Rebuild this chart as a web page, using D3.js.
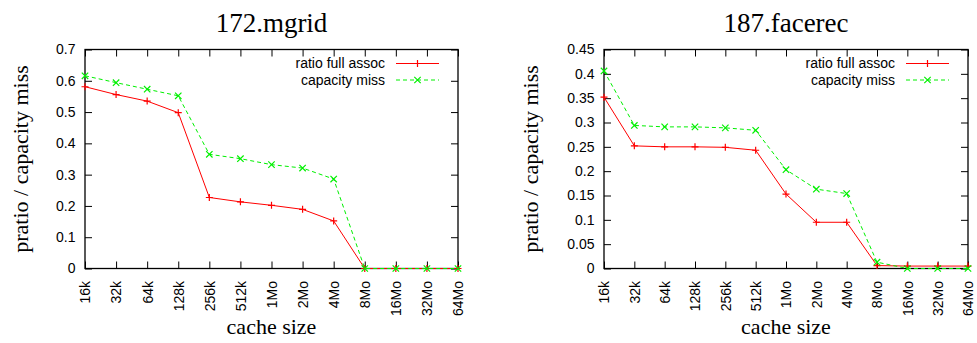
<!DOCTYPE html>
<html>
<head>
<meta charset="utf-8">
<script src="https://cdn.jsdelivr.net/npm/d3@7"></script>
<style>
  html, body { margin: 0; padding: 0; background: #fff; }
  svg { display: block; }
</style>
</head>
<body>
<svg id="chart" width="977" height="343"></svg>
<script>
// ---- data ----
const categories = ["16k","32k","64k","128k","256k","512k","1Mo","2Mo","4Mo","8Mo","16Mo","32Mo","64Mo"];
const seriesNames = ["ratio full assoc", "capacity miss"];

const mgridTitle = "172.mgrid";
const mgridRatio    = [0.581, 0.556, 0.535, 0.498, 0.227, 0.213, 0.202, 0.189, 0.152, 0, 0, 0, 0];
const mgridCapacity = [0.616, 0.594, 0.573, 0.552, 0.365, 0.351, 0.332, 0.321, 0.286, 0, 0, 0, 0];
const mgridYTicks   = [0, 0.1, 0.2, 0.3, 0.4, 0.5, 0.6, 0.7];
const mgridYTickLabels = ["0", "0.1", "0.2", "0.3", "0.4", "0.5", "0.6", "0.7"];

const facerecTitle = "187.facerec";
const facerecRatio    = [0.352, 0.252, 0.250, 0.250, 0.249, 0.243, 0.153, 0.095, 0.095, 0.006, 0.005, 0.005, 0.005];
const facerecCapacity = [0.406, 0.294, 0.291, 0.291, 0.289, 0.284, 0.203, 0.163, 0.154, 0.013, 0, 0, 0];
const facerecYTicks   = [0, 0.05, 0.1, 0.15, 0.2, 0.25, 0.3, 0.35, 0.4, 0.45];
const facerecYTickLabels = ["0", "0.05", "0.1", "0.15", "0.2", "0.25", "0.3", "0.35", "0.4", "0.45"];

const xLabel = "cache size";
const yLabel = "pratio / capacity miss";

// ---- drawing ----
const svg = d3.select("#chart");
const serif = "'Liberation Serif', 'Times New Roman', serif";
const sans = "'Liberation Sans', Arial, Helvetica, sans-serif";
const colors = ["#ff0000", "#00f000"];
const dashes = [null, "4,3"];

function plusPath(s) { return `M${-s},0H${s}M0,${-s}V${s}`; }
function crossPath(s) { return `M${-s},${-s}L${s},${s}M${-s},${s}L${s},${-s}`; }
const markers = [plusPath(3.5), crossPath(3.2)];

function panel(cfg) {
  const { left, right, top, bottom, title, series, yTicks, yTickLabels, yLabelX } = cfg;
  const g = svg.append("g");

  const x = d3.scalePoint().domain(categories).range([left, right]).padding(0);
  const y = d3.scaleLinear().domain([yTicks[0], yTicks[yTicks.length - 1]]).range([bottom, top]);

  // title
  g.append("text")
    .attr("x", (left + right) / 2).attr("y", 31.5)
    .attr("text-anchor", "middle")
    .style("font-family", serif).style("font-size", "27px")
    .text(title);

  // axes
  const fmt = (d) => yTickLabels[yTicks.indexOf(d)];
  const ax = g.append("g")
    .attr("transform", `translate(${left},0)`)
    .call(d3.axisLeft(y).tickValues(yTicks).tickFormat(fmt).tickSize(-7).tickPadding(9.5));
  const axR = g.append("g")
    .attr("transform", `translate(${right},0)`)
    .call(d3.axisRight(y).tickValues(yTicks).tickFormat("").tickSize(-7));
  const axB = g.append("g")
    .attr("transform", `translate(0,${bottom})`)
    .call(d3.axisBottom(x).tickSize(-7).tickPadding(0));
  const axT = g.append("g")
    .attr("transform", `translate(0,${top})`)
    .call(d3.axisTop(x).tickFormat("").tickSize(-7));

  [ax, axR, axB, axT].forEach(a => {
    a.select(".domain").remove();
    a.selectAll("line").attr("stroke", "#000").attr("stroke-width", 1);
    a.selectAll("text").style("font-family", sans).style("font-size", "14px").attr("fill", "#000");
  });
  axB.selectAll(".tick text")
    .attr("transform", "rotate(-90)")
    .attr("text-anchor", "end")
    .attr("x", -12.5)
    .attr("y", 0)
    .attr("dy", "0.35em");

  // frame
  g.append("rect")
    .attr("x", left).attr("y", top)
    .attr("width", right - left).attr("height", bottom - top)
    .attr("fill", "none").attr("stroke", "#000").attr("stroke-width", 1.3);

  // axis labels
  g.append("text")
    .attr("x", (left + right) / 2).attr("y", 334)
    .attr("text-anchor", "middle")
    .style("font-family", serif).style("font-size", "22px")
    .text(xLabel);
  g.append("text")
    .attr("transform", `translate(${yLabelX},${(top + bottom) / 2}) rotate(-90)`)
    .attr("text-anchor", "middle")
    .style("font-family", serif).style("font-size", "22px")
    .text(yLabel);

  // series
  const line = d3.line().x((d, i) => x(categories[i])).y(d => y(d));
  series.forEach((vals, si) => {
    g.append("path")
      .datum(vals)
      .attr("d", line)
      .attr("fill", "none")
      .attr("stroke", colors[si])
      .attr("stroke-width", 1)
      .attr("stroke-dasharray", dashes[si]);
    g.selectAll(null)
      .data(vals)
      .enter().append("path")
      .attr("transform", (d, i) => `translate(${x(categories[i])},${y(d)})`)
      .attr("d", markers[si])
      .attr("fill", "none")
      .attr("stroke", colors[si])
      .attr("stroke-width", 1.2);
  });

  // legend
  seriesNames.forEach((name, si) => {
    const ly = top + 14 + si * 16.5;
    g.append("text")
      .attr("x", right - 73).attr("y", ly)
      .attr("dy", "0.35em")
      .attr("text-anchor", "end")
      .style("font-family", sans).style("font-size", "14px")
      .text(name);
    g.append("line")
      .attr("x1", right - 62).attr("x2", right - 19)
      .attr("y1", ly).attr("y2", ly)
      .attr("stroke", colors[si]).attr("stroke-width", 1)
      .attr("stroke-dasharray", dashes[si]);
    g.append("path")
      .attr("transform", `translate(${right - 40.5},${ly})`)
      .attr("d", markers[si])
      .attr("fill", "none")
      .attr("stroke", colors[si])
      .attr("stroke-width", 1.2);
  });
}

panel({
  left: 85, right: 458, top: 49.5, bottom: 268.5,
  title: mgridTitle, series: [mgridRatio, mgridCapacity],
  yTicks: mgridYTicks, yTickLabels: mgridYTickLabels, yLabelX: 28
});
panel({
  left: 604, right: 968, top: 49.5, bottom: 268.5,
  title: facerecTitle, series: [facerecRatio, facerecCapacity],
  yTicks: facerecYTicks, yTickLabels: facerecYTickLabels, yLabelX: 538
});
</script>
</body>
</html>
